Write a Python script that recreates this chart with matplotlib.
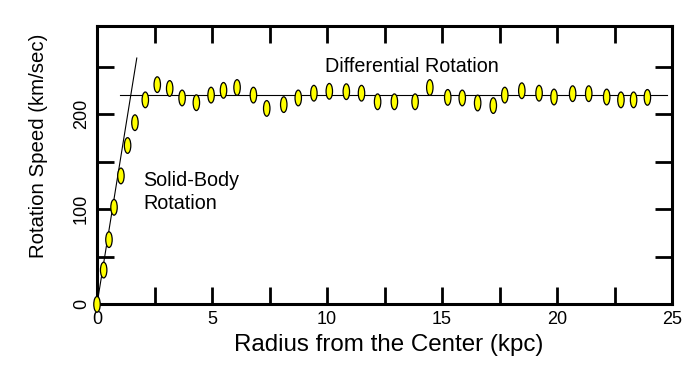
import matplotlib
matplotlib.use("Agg")
import matplotlib.pyplot as plt
from matplotlib.patches import Ellipse
from matplotlib.ticker import MultipleLocator

plt.rcParams['font.family'] = ['Liberation Sans', 'DejaVu Sans']

radius = [0, 0.29, 0.52, 0.74, 1.04, 1.33, 1.65, 2.1, 2.62, 3.16, 3.7, 4.32,
          4.96, 5.5, 6.09, 6.8, 7.38, 8.12, 8.75, 9.43, 10.1, 10.84, 11.5,
          12.2, 12.93, 13.83, 14.47, 15.25, 15.88, 16.55, 17.23, 17.73, 18.47,
          19.22, 19.87, 20.68, 21.38, 22.16, 22.78, 23.33, 23.93]
speed = [0, 36, 68, 102, 135, 167, 191, 215, 231, 227, 217, 212,
         220, 225, 228, 220, 206, 210, 217, 222, 224, 223.6, 222,
         213, 213, 213, 228, 217.6, 217, 211.7, 209, 220, 224.6,
         222, 218, 221.5, 221.5, 218, 215, 215, 217.6]

solid_r = [0, 1.73]
solid_v = [0, 259]
flat_r = [1.0, 24.8]
flat_v = [220, 220]

xticks = [0, 5, 10, 15, 20, 25]
yticks = [0, 100, 200]

fig = plt.figure(figsize=(6.99, 3.79), dpi=100)
ax = fig.add_axes([97/699, 1 - 304.3/379, 575/699, (304.3 - 25.7)/379])
ax.set_xlim(0, 25)
ax.set_ylim(0, 293)

ax.plot(solid_r, solid_v, color='black', lw=0.8, zorder=2)
ax.plot(flat_r, flat_v, color='black', lw=0.8, zorder=2)

for r, v in zip(radius, speed):
    e = Ellipse((r, v), width=0.28, height=16.5, facecolor='#ffff00',
                edgecolor='black', lw=0.9, zorder=3, clip_on=False)
    ax.add_patch(e)

ax.set_xticks(xticks)
ax.set_yticks(yticks)
ax.xaxis.set_minor_locator(MultipleLocator(2.5))
ax.yaxis.set_minor_locator(MultipleLocator(50))
for which in ('major', 'minor'):
    ax.tick_params(which=which, direction='in', length=12, width=2,
                   top=True, right=True, bottom=True, left=True)
ax.tick_params(axis='both', labelsize=13, pad=5)
for lab in ax.get_yticklabels():
    lab.set_rotation(90)
    lab.set_va('center')
for s in ax.spines.values():
    s.set_linewidth(2.2)

ax.set_xlabel('Radius from the Center (kpc)', fontsize=17.4, va='center')
ax.xaxis.set_label_coords((389 - 97) / 575, (304.3 - 345.5) / 278.6)
ax.set_ylabel('Rotation Speed (km/sec)', fontsize=14.7, va='center')
ax.yaxis.set_label_coords((39 - 97) / 575, (304.3 - 146) / 278.6)

ax.text(9.9, 244, 'Differential Rotation', fontsize=14.2, ha='left',
        va='baseline')
ax.text(2.0, 100, 'Solid-Body\nRotation', fontsize=14.2, ha='left',
        va='baseline', linespacing=1.28)

fig.savefig('out.png', dpi=100)
